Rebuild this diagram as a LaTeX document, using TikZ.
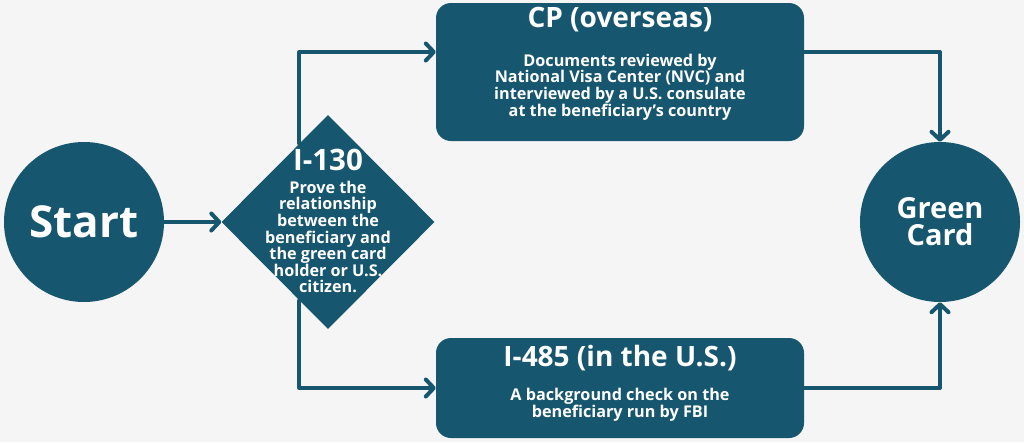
\documentclass[tikz,border=0pt]{standalone}
\usepackage{fontspec}
\setmainfont{Open Sans}
\usetikzlibrary{shapes.geometric,arrows.meta}

\definecolor{uscisblue}{HTML}{17566F}
\definecolor{pagegray}{HTML}{F5F5F5}

\tikzset{
  stepnode/.style={fill=uscisblue,text=white,font=\bfseries},
  roundnode/.style={stepnode,circle,minimum size=160pt,inner sep=0pt,align=center},
  boxnode/.style={stepnode,rectangle,rounded corners=15pt,minimum width=368pt},
  titletext/.style={text=white,font=\bfseries\fontsize{28}{32}\selectfont,inner sep=0pt},
  bodytext/.style={text=white,font=\bfseries\fontsize{16.2}{16.6}\selectfont,align=center,inner sep=0pt},
  link/.style={draw=uscisblue,line width=4pt,line cap=round,line join=round,
    -{Straight Barb[length=8pt,width=17pt,round]}}
}

\begin{document}
\begin{tikzpicture}[x=1pt,y=-1pt]
  \fill[pagegray] (0,0) rectangle (1024,442);
  \useasboundingbox (0,0) rectangle (1024,442);

  \node[roundnode,font=\bfseries\fontsize{44}{48}\selectfont] (start) at (84,222) {Start};
  \node[stepnode,diamond,aspect=1,minimum width=213pt,minimum height=214pt,inner sep=0pt] (dia) at (328,222) {};
  \node[titletext,font=\bfseries\fontsize{29.5}{32}\selectfont] (i130) at (328,160) {I-130};
  \node[bodytext] (i130body) at (328,237) {Prove the\\relationship\\between the\\beneficiary and\\the green card\\holder or U.S.\\citizen.};

  \node[boxnode,minimum height=138pt] (cp) at (620,72) {};
  \node[titletext] (cptitle) at (620,20) {CP (overseas)};
  \node[bodytext] (cpbody) at (620,87) {Documents reviewed by\\National Visa Center (NVC) and\\interviewed by a U.S. consulate\\at the beneficiary’s country};

  \node[boxnode,minimum height=100pt] (i485) at (620,388) {};
  \node[titletext] (i485title) at (620,358) {I-485 (in the U.S.)};
  \node[bodytext] (i485body) at (620,405) {A background check on the\\beneficiary run by FBI};

  \node[roundnode,font=\bfseries\fontsize{29}{27}\selectfont] (gc) at (940,222) {Green\\Card};

  \draw[link] (start) -- (dia);
  \draw[link] (dia.110) |- ([yshift=20pt]cp.west);
  \draw[link] (dia.-110) |- (i485.west);
  \draw[link] ([yshift=20pt]cp.east) -| (gc.north);
  \draw[link] (i485.east) -| (gc.south);
\end{tikzpicture}
\end{document}
